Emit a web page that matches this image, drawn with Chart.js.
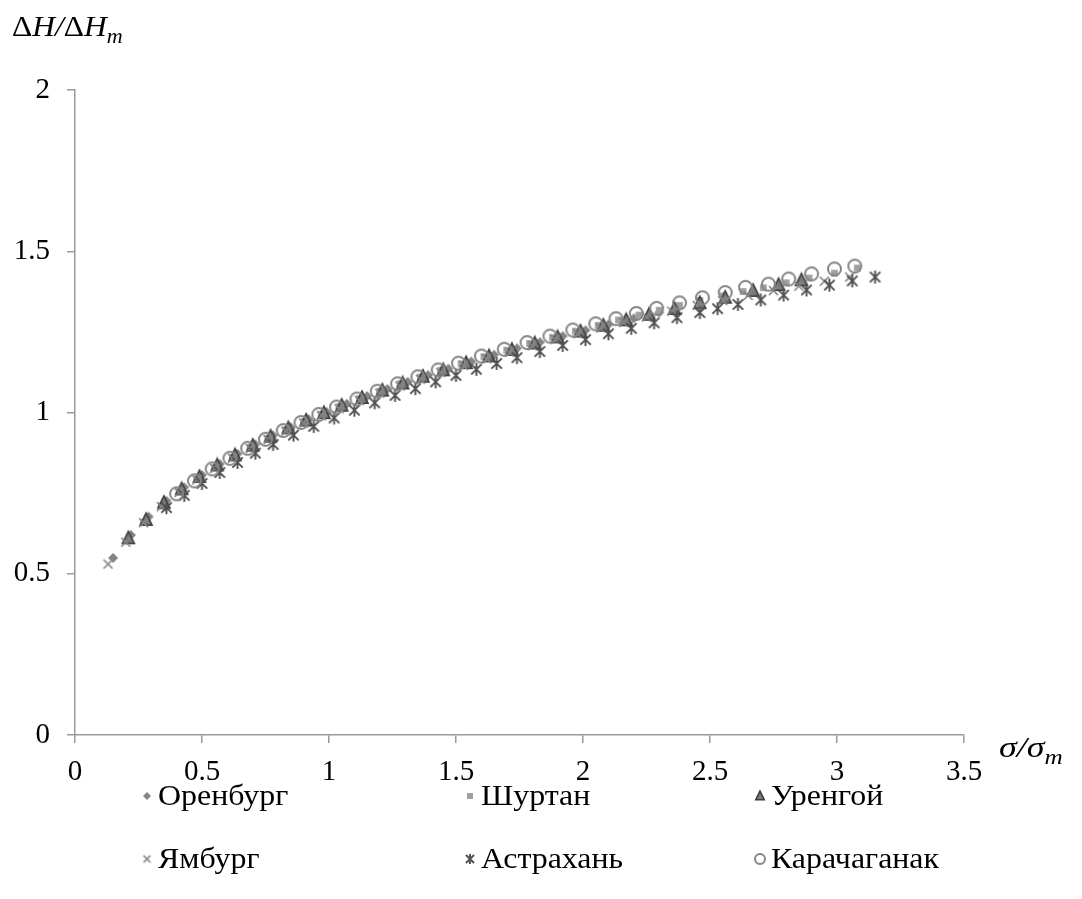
<!DOCTYPE html>
<html>
<head>
<meta charset="utf-8">
<script src="https://cdn.jsdelivr.net/npm/chart.js@4.4.1/dist/chart.umd.min.js"></script>
<style>
html, body { margin: 0; padding: 0; background: #fff; }
#wrap { width: 1082px; height: 899px; position: relative; }
</style>
</head>
<body>
<div id="wrap"><canvas id="chart"></canvas></div>
<script>
// ===== Data =====

const xTicks = [0, 0.5, 1, 1.5, 2, 2.5, 3, 3.5];
const yTicks = [0, 0.5, 1, 1.5, 2];

const seriesNames = ["Оренбург", "Шуртан", "Уренгой", "Ямбург", "Астрахань", "Карачаганак"];

const orenburgX = [0.15, 0.22, 0.29, 0.36, 0.43, 0.50, 0.57, 0.64, 0.71, 0.78, 0.85, 0.92, 0.99, 1.07, 1.15, 1.23, 1.31, 1.39, 1.47, 1.56, 1.65, 1.74, 1.83, 1.92, 2.01, 2.10, 2.20, 2.30];
const orenburgY = [0.549, 0.620, 0.677, 0.726, 0.768, 0.806, 0.840, 0.872, 0.901, 0.929, 0.954, 0.979, 1.002, 1.027, 1.051, 1.073, 1.095, 1.116, 1.136, 1.158, 1.179, 1.199, 1.218, 1.237, 1.255, 1.273, 1.292, 1.310];

const shurtanX = [0.27, 0.34, 0.41, 0.48, 0.55, 0.62, 0.69, 0.76, 0.83, 0.90, 0.97, 1.04, 1.12, 1.20, 1.28, 1.36, 1.44, 1.52, 1.61, 1.70, 1.79, 1.88, 1.97, 2.06, 2.14, 2.22, 2.30, 2.38, 2.46, 2.55, 2.63, 2.71, 2.80, 2.89, 2.99, 3.08];
const shurtanY = [0.660, 0.710, 0.754, 0.793, 0.829, 0.861, 0.892, 0.920, 0.947, 0.972, 0.995, 1.018, 1.043, 1.066, 1.089, 1.110, 1.131, 1.151, 1.173, 1.193, 1.214, 1.233, 1.252, 1.270, 1.287, 1.302, 1.317, 1.332, 1.347, 1.362, 1.375, 1.387, 1.402, 1.417, 1.432, 1.448];

const urengoyX = [0.21, 0.28, 0.35, 0.42, 0.49, 0.56, 0.63, 0.70, 0.77, 0.84, 0.91, 0.98, 1.05, 1.13, 1.21, 1.29, 1.37, 1.45, 1.54, 1.63, 1.72, 1.81, 1.90, 1.99, 2.08, 2.17, 2.26, 2.36, 2.46, 2.56, 2.67, 2.77, 2.86];
const urengoyY = [0.610, 0.667, 0.720, 0.762, 0.800, 0.836, 0.867, 0.897, 0.925, 0.951, 0.975, 0.998, 1.021, 1.045, 1.068, 1.090, 1.111, 1.131, 1.153, 1.174, 1.194, 1.214, 1.233, 1.251, 1.269, 1.286, 1.303, 1.321, 1.339, 1.356, 1.377, 1.395, 1.410];

const yamburgX = [0.13, 0.20, 0.27, 0.34, 0.41, 0.48, 0.55, 0.62, 0.69, 0.76, 0.83, 0.90, 0.97, 1.04, 1.12, 1.20, 1.28, 1.36, 1.44, 1.53, 1.62, 1.71, 1.80, 1.89, 1.98, 2.07, 2.16, 2.25, 2.35, 2.45, 2.55, 2.65, 2.75, 2.85, 2.95, 3.05];
const yamburgY = [0.530, 0.598, 0.658, 0.708, 0.752, 0.791, 0.826, 0.858, 0.888, 0.916, 0.942, 0.967, 0.990, 1.012, 1.037, 1.060, 1.082, 1.103, 1.124, 1.146, 1.167, 1.187, 1.207, 1.226, 1.244, 1.262, 1.279, 1.296, 1.314, 1.332, 1.347, 1.363, 1.378, 1.392, 1.407, 1.420];

const astrakhanX = [0.36, 0.43, 0.50, 0.57, 0.64, 0.71, 0.78, 0.86, 0.94, 1.02, 1.10, 1.18, 1.26, 1.34, 1.42, 1.50, 1.58, 1.66, 1.74, 1.83, 1.92, 2.01, 2.10, 2.19, 2.28, 2.37, 2.46, 2.53, 2.61, 2.70, 2.79, 2.88, 2.97, 3.06, 3.15];
const astrakhanY = [0.705, 0.743, 0.780, 0.814, 0.845, 0.874, 0.901, 0.930, 0.957, 0.983, 1.007, 1.030, 1.053, 1.074, 1.095, 1.115, 1.134, 1.152, 1.170, 1.189, 1.208, 1.226, 1.244, 1.261, 1.278, 1.294, 1.310, 1.322, 1.335, 1.349, 1.364, 1.380, 1.395, 1.408, 1.420];

const karachaganakX = [0.40, 0.47, 0.54, 0.61, 0.68, 0.75, 0.82, 0.89, 0.96, 1.03, 1.11, 1.19, 1.27, 1.35, 1.43, 1.51, 1.60, 1.69, 1.78, 1.87, 1.96, 2.05, 2.13, 2.21, 2.29, 2.38, 2.47, 2.56, 2.64, 2.73, 2.81, 2.90, 2.99, 3.07];
const karachaganakY = [0.748, 0.788, 0.825, 0.858, 0.889, 0.917, 0.944, 0.969, 0.994, 1.017, 1.042, 1.066, 1.089, 1.111, 1.132, 1.153, 1.175, 1.196, 1.217, 1.237, 1.256, 1.275, 1.291, 1.307, 1.323, 1.340, 1.356, 1.372, 1.388, 1.398, 1.414, 1.430, 1.445, 1.454];


// ===== Markers =====

function marker(kind, r) {

    const s = Math.ceil(r * 2 + 4);
    const c = document.createElement("canvas");
    c.width = s;
    c.height = s;
    const g = c.getContext("2d");
    const m = s / 2;

    if (kind === "diamond") {
        g.fillStyle = "#858585";
        g.beginPath();
        g.moveTo(m, m - r);
        g.lineTo(m + r, m);
        g.lineTo(m, m + r);
        g.lineTo(m - r, m);
        g.closePath();
        g.fill();
    } else if (kind === "square") {
        g.fillStyle = "#a0a0a0";
        g.fillRect(m - r * 0.75, m - r * 0.75, r * 1.5, r * 1.5);
    } else if (kind === "triangle") {
        g.fillStyle = "#7a7a7a";
        g.strokeStyle = "#3c3c3c";
        g.lineWidth = 1.6;
        g.beginPath();
        g.moveTo(m, m - r);
        g.lineTo(m + r * 0.85, m + r * 0.75);
        g.lineTo(m - r * 0.85, m + r * 0.75);
        g.closePath();
        g.fill();
        g.stroke();
    } else if (kind === "cross") {
        g.strokeStyle = "#858585";
        g.lineWidth = 1.7;
        g.beginPath();
        g.moveTo(m - r, m - r);
        g.lineTo(m + r, m + r);
        g.moveTo(m + r, m - r);
        g.lineTo(m - r, m + r);
        g.stroke();
    } else if (kind === "asterisk") {
        g.strokeStyle = "#505050";
        g.lineWidth = 1.9;
        g.beginPath();
        g.moveTo(m - r * 0.8, m - r * 0.8);
        g.lineTo(m + r * 0.8, m + r * 0.8);
        g.moveTo(m + r * 0.8, m - r * 0.8);
        g.lineTo(m - r * 0.8, m + r * 0.8);
        g.moveTo(m, m - r);
        g.lineTo(m, m + r);
        g.stroke();
    } else if (kind === "circle") {
        g.strokeStyle = "#858585";
        g.lineWidth = 2;
        g.beginPath();
        g.arc(m, m, r - 1, 0, Math.PI * 2);
        g.stroke();
    }

    return c;
}

const kinds = ["diamond", "square", "triangle", "cross", "asterisk", "circle"];
const plotSizes = [5, 4.5, 7, 4.5, 6.5, 7.5];
const legendSizes = [4, 4, 5, 3.5, 5, 6];

const xs = [orenburgX, shurtanX, urengoyX, yamburgX, astrakhanX, karachaganakX];
const ys = [orenburgY, shurtanY, urengoyY, yamburgY, astrakhanY, karachaganakY];

const datasets = seriesNames.map((name, i) => ({
    label: name,
    data: xs[i].map((x, j) => ({ x: x, y: ys[i][j] })),
    pointStyle: marker(kinds[i], plotSizes[i]),
    pointRadius: plotSizes[i],
    showLine: false,
    order: seriesNames.length - i
}));


// ===== Axis titles and legend =====

const serif = "'Liberation Serif', 'Times New Roman', serif";

// text runs drawn slightly widened, like the Times face used in the figure
function drawRuns(ctx, runs, x, y, stretch) {
    ctx.save();
    ctx.translate(x, y);
    ctx.scale(stretch, 1);
    let cx = 0;
    runs.forEach(r => {
        ctx.font = r.font;
        ctx.fillText(r.text, cx, r.dy || 0);
        cx += ctx.measureText(r.text).width;
    });
    ctx.restore();
}

const extras = {
    id: "extras",
    afterDraw(chart) {
        const ctx = chart.ctx;
        ctx.save();
        ctx.fillStyle = "#000";
        ctx.textBaseline = "alphabetic";
        ctx.textAlign = "left";

        drawRuns(ctx, [
            { text: "Δ", font: "30px " + serif },
            { text: "H/", font: "italic 30px " + serif },
            { text: "Δ", font: "30px " + serif },
            { text: "H", font: "italic 30px " + serif },
            { text: "m", font: "italic 21px " + serif, dy: 7 }
        ], 12, 36, 1.05);

        drawRuns(ctx, [
            { text: "σ/σ", font: "italic 30px " + serif },
            { text: "m", font: "italic 21px " + serif, dy: 7 }
        ], 999, 757, 1.2);

        const colX = [147, 470, 760];
        const rowY = [796, 859];
        ctx.textBaseline = "middle";
        seriesNames.forEach((name, i) => {
            const cx = colX[i % 3];
            const cy = rowY[Math.floor(i / 3)];
            const img = marker(kinds[i], legendSizes[i]);
            ctx.drawImage(img, cx - img.width / 2, cy - img.height / 2);
            drawRuns(ctx, [{ text: name, font: "29px " + serif }], cx + 11, cy + 1, 1.1);
        });

        ctx.restore();
    }
};


// ===== Chart =====

const axisColor = "#9a9a9a";

new Chart(document.getElementById("chart"), {
    type: "scatter",
    data: { datasets: datasets },
    options: {
        responsive: true,
        maintainAspectRatio: false,
        animation: false,
        layout: { padding: { left: 0, top: 90, right: 118, bottom: 114 } },
        plugins: {
            legend: { display: false },
            tooltip: { enabled: false }
        },
        scales: {
            x: {
                type: "linear",
                min: 0,
                max: 3.5,
                afterBuildTicks: s => { s.ticks = xTicks.map(v => ({ value: v })); },
                afterFit: s => { s.height = 50; },
                border: { color: axisColor, width: 1.5 },
                grid: { drawOnChartArea: false, drawTicks: true, tickLength: 8, color: axisColor, lineWidth: 1.5 },
                ticks: { color: "#000", padding: 12, maxRotation: 0, font: { family: serif, size: 29 }, callback: v => String(v) }
            },
            y: {
                type: "linear",
                min: 0,
                max: 2,
                afterBuildTicks: s => { s.ticks = yTicks.map(v => ({ value: v })); },
                afterFit: s => { s.width = 75; },
                border: { color: axisColor, width: 1.5 },
                grid: { drawOnChartArea: false, drawTicks: true, tickLength: 8, color: axisColor, lineWidth: 1.5 },
                ticks: { color: "#000", padding: 17, font: { family: serif, size: 29 }, callback: v => String(v) }
            }
        }
    },
    plugins: [extras]
});
</script>
</body>
</html>
